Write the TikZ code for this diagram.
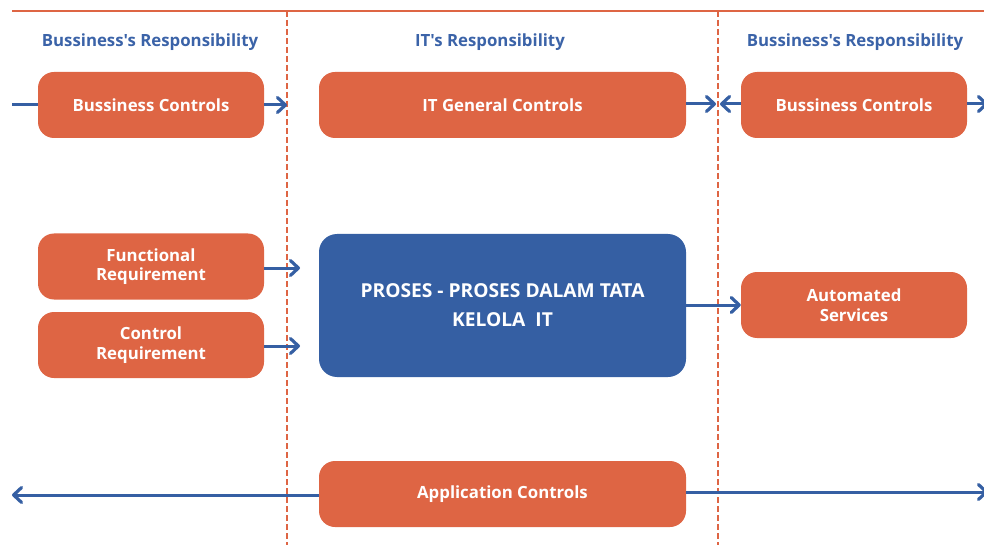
\documentclass[tikz,border=0pt]{standalone}
\usepackage{fontspec}
\setmainfont{Open Sans}[Ligatures=TeXOff]
\usetikzlibrary{arrows.meta}
\definecolor{boxorange}{HTML}{DE6544}
\definecolor{boxblue}{HTML}{355FA3}
\definecolor{headblue}{HTML}{3B63A8}
\tikzset{
  box/.style={fill=boxorange, rounded corners=16pt, text=white, align=center,
    font=\bfseries\fontsize{16.8}{19.5}\selectfont, minimum width=226pt,
    minimum height=66pt, inner sep=0pt},
  bigbox/.style={fill=boxblue, rounded corners=18pt, text=white, align=center,
    font=\bfseries\fontsize{19.2}{29}\selectfont, minimum width=367pt,
    minimum height=143pt, inner sep=0pt},
  head/.style={text=headblue, font=\bfseries\fontsize{16.8}{19}\selectfont},
  conn/.style={draw=boxblue, line width=3pt, -{Straight Barb[round,length=8pt,width=15pt,line width=3.2pt]}},
  plain/.style={draw=boxblue, line width=3pt},
  divider/.style={draw=boxorange, line width=1.3pt, dash pattern=on 6pt off 3pt},
}
\begin{document}
\begin{tikzpicture}[x=1pt,y=-1pt]
\useasboundingbox (0,0) rectangle (984,545);

% frame line and lane dividers
\coordinate (topL) at (12,11);
\coordinate (topR) at (984,11);
\draw[boxorange, line width=2pt] (topL) -- (topR);
\coordinate (d1t) at (287,11);
\coordinate (d1b) at (287,545);
\coordinate (d2t) at (718,11);
\coordinate (d2b) at (718,545);
\draw[divider] (d1t) -- (d1b);
\draw[divider] (d2t) -- (d2b);

% lane headings
\node[head] (h1) at (150,42.5) {Bussiness's Responsibility};
\node[head] (h2) at (490,42.5) {IT's Responsibility};
\node[head] (h3) at (855,42.5) {Bussiness's Responsibility};

% boxes
\node[box] (bc1) at (151,105) {Bussiness Controls};
\node[box, minimum width=367pt] (itg) at (502.5,105) {IT General Controls};
\node[box] (bc2) at (854,105) {Bussiness Controls};
\node[box] (fr) at (151,266.5) {Functional\\Requirement};
\node[box] (cr) at (151,345) {Control\\Requirement};
\node[bigbox] (proc) at (502.5,305.5) {PROSES - PROSES DALAM TATA\\KELOLA\ \ IT};
\node[box] (as) at (854,305) {Automated\\Services};
\node[box, minimum width=367pt] (ac) at (502.5,494) {Application Controls};

% connectors
\coordinate (inL) at (12,105);
\coordinate (bc1tip) at (287,105);
\coordinate (itgtip) at (716,104);
\coordinate (bc2tip) at (720,104);
\coordinate (outR) at (988,104);
\coordinate (frtip) at (300,268);
\coordinate (crtip) at (300,346);
\coordinate (acL) at (12,495);
\coordinate (acR) at (988,492);

\draw[plain] (inL) -- (bc1.west);
\draw[conn] (bc1.east) -- (bc1tip);
\draw[conn] (itg.east |- itgtip) -- (itgtip);
\draw[conn] (bc2.west |- bc2tip) -- (bc2tip);
\draw[conn] (bc2.east |- outR) -- (outR);
\draw[conn] (fr.east |- frtip) -- (frtip);
\draw[conn] (cr.east |- crtip) -- (crtip);
\draw[conn] (proc.east |- as.west) -- (as.west);
\draw[conn] (ac.west |- acL) -- (acL);
\draw[conn] (ac.east |- acR) -- (acR);
\end{tikzpicture}
\end{document}
